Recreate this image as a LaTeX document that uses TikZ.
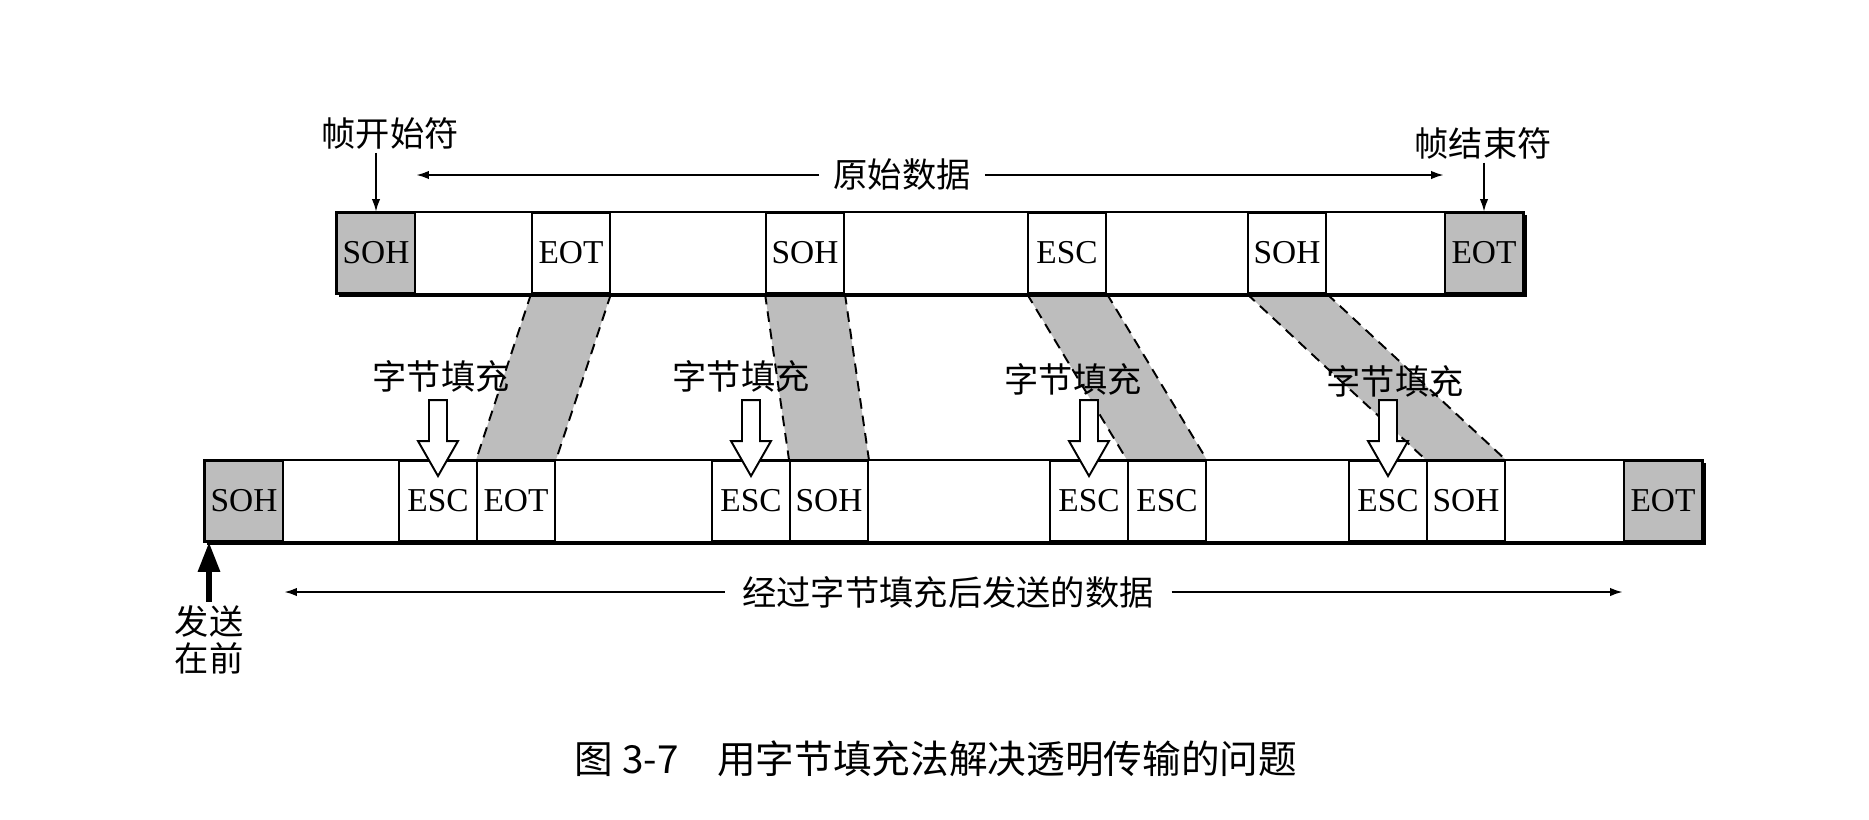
\documentclass[tikz,border=0pt]{standalone}
\usepackage{fontspec}
\setmainfont{Liberation Serif}
\newfontfamily\cjk{Noto Sans CJK SC}
\usepackage{xcolor}
\usetikzlibrary{arrows.meta, positioning, calc, backgrounds, shadows}
\definecolor{dotgray}{HTML}{BDBDBD}

\begin{document}
\begin{tikzpicture}[x=0.02cm, y=-0.02cm,
    cell/.style={rectangle, draw, line width=1.1pt, minimum width=1.56cm, minimum height=1.6cm, inner sep=0pt, font=\fontsize{19}{22}\selectfont},
    flag cell/.style={cell, fill=dotgray},
    bar/.style={draw, fill=white, line width=1.1pt, drop shadow={shadow xshift=0.06cm, shadow yshift=-0.06cm, opacity=1, fill=black}},
    lbl/.style={font=\cjk\fontsize{19.5}{21}\selectfont, inner sep=2pt},
    gap/.style={inner xsep=8pt},
    arrow/.style={-{Latex[length=0.26cm, width=0.17cm]}, line width=1.3pt},
    bigarrow/.style={-{Triangle[length=0.6cm, width=0.42cm]}, line width=3.5pt},
    shiftedge/.style={line width=1.1pt, dash pattern=on 6pt off 4pt},
    hollow/.style={draw, fill=white, line width=1.1pt, line join=miter}
]
\useasboundingbox (0,0) rectangle (1869,819);

% Original frame
\node[flag cell] (t1) at (376,253) {SOH};
\node[cell] (t2) at (571,253) {EOT};
\node[cell] (t3) at (805,253) {SOH};
\node[cell] (t4) at (1067,253) {ESC};
\node[cell] (t5) at (1287,253) {SOH};
\node[flag cell] (t6) at (1484,253) {EOT};

% Stuffed frame
\node[flag cell] (b1) at (244,501) {SOH};
\node[cell] (b2) at (438,501) {ESC};
\node[cell] (b3) at (516,501) {EOT};
\node[cell] (b4) at (751,501) {ESC};
\node[cell] (b5) at (829,501) {SOH};
\node[cell] (b6) at (1089,501) {ESC};
\node[cell] (b7) at (1167,501) {ESC};
\node[cell] (b8) at (1388,501) {ESC};
\node[cell] (b9) at (1466,501) {SOH};
\node[flag cell] (b10) at (1663,501) {EOT};

% Bars and shifted bytes
\begin{scope}[on background layer]
\foreach \a/\b in {t2/b3, t3/b5, t4/b7, t5/b9} {
  \fill[dotgray] (\a.south west) -- (\a.south east) -- (\b.north east) -- (\b.north west) -- cycle;
  \draw[shiftedge] (\a.south west) -- (\b.north west);
  \draw[shiftedge] (\a.south east) -- (\b.north east);
}
\draw[bar] (t1.north west) rectangle (t6.south east);
\draw[bar] (b1.north west) rectangle (b10.south east);
\end{scope}

% Inserted ESC
\foreach \c in {b2, b4, b6, b8}
  \draw[hollow] ($(\c.north)+(0,16)$) -- ++(-20,-35) -- ++(11,0) -- ++(0,-41) -- ++(18,0) -- ++(0,41) -- ++(11,0) -- cycle;

\node[lbl] (fill1) at (441,376) {字节填充};
\node[lbl] (fill2) at (741,376) {字节填充};
\node[lbl] (fill3) at (1073,379) {字节填充};
\node[lbl] (fill4) at (1395,381) {字节填充};

% Top labels
\node[lbl] (start) at (390,133) {帧开始符};
\node[lbl, gap] (raw) at (902,175) {原始数据};
\node[lbl] (stop) at (1483,143) {帧结束符};
\draw[arrow] (start.south -| t1.north) -- (t1.north);
\draw[arrow] (raw.west) -- (raw.west -| t1.east);
\draw[arrow] (raw.east) -- (raw.east -| t6.west);
\draw[arrow] (stop.south -| t6.north) -- (t6.north);

% Bottom labels
\node[lbl, align=center] (first) at (209,640) {发送\\在前};
\draw[bigarrow] (first.north) -- (first.north |- b1.south);
\node[lbl, gap, inner xsep=10pt] (sent) at (948,592) {经过字节填充后发送的数据};
\draw[arrow] (sent.west) -- (sent.west -| b1.east);
\draw[arrow] (sent.east) -- (sent.east -| b10.west);

% Caption
\node[font=\cjk\fontsize{22}{26}\selectfont] (caption) at (936,759) {图 3-7\quad 用字节填充法解决透明传输的问题};
\end{tikzpicture}
\end{document}
